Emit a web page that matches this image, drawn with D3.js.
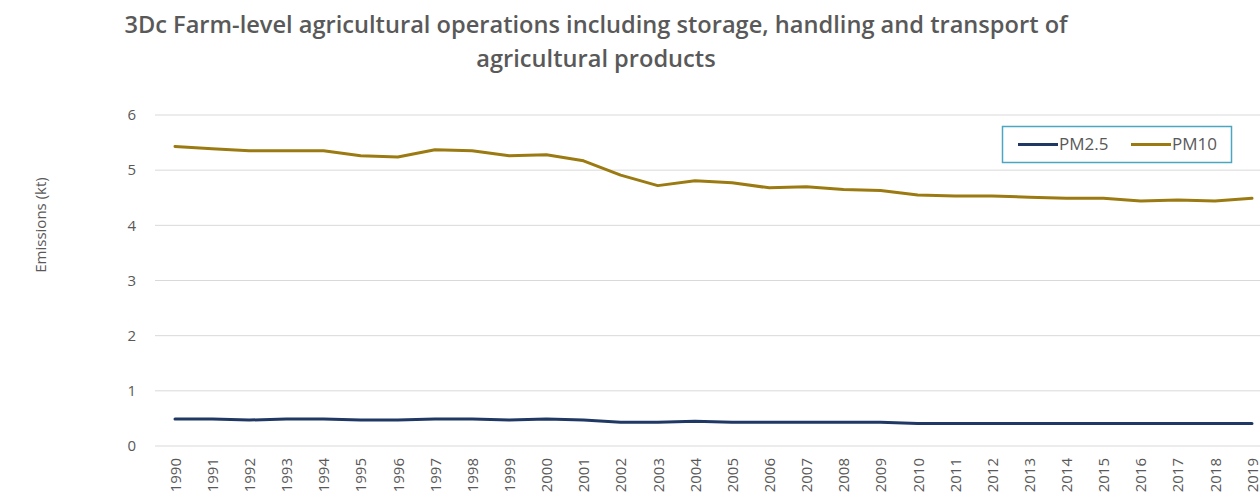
<!DOCTYPE html>
<html>
<head>
<meta charset="utf-8">
<script src="https://cdn.jsdelivr.net/npm/d3@7"></script>
<style>
  body { margin: 0; background: #fff; }
  svg { display: block; font-family: "Open Sans", "Noto Sans", sans-serif; }
</style>
</head>
<body>
<svg id="chart" width="1260" height="493"></svg>
<script>
const years = d3.range(1990, 2020).map(String);
const pm25 = [0.49, 0.49, 0.47, 0.49, 0.49, 0.47, 0.47, 0.49, 0.49, 0.47,
  0.49, 0.47, 0.43, 0.43, 0.45, 0.43, 0.43, 0.43, 0.43, 0.43,
  0.41, 0.41, 0.41, 0.41, 0.41, 0.41, 0.41, 0.41, 0.41, 0.41];
const pm10 = [5.43, 5.39, 5.35, 5.35, 5.35, 5.26, 5.24, 5.37, 5.35, 5.26,
  5.28, 5.17, 4.91, 4.72, 4.81, 4.77, 4.68, 4.70, 4.65, 4.63,
  4.55, 4.53, 4.53, 4.51, 4.49, 4.49, 4.44, 4.46, 4.44, 4.49];
const yTicks = [0, 1, 2, 3, 4, 5, 6];
const seriesNames = ['PM2.5', 'PM10'];
const colors = ['#203864', '#9c7a12'];

const svg = d3.select('#chart');
const textColor = '#595959';

// scales
const x = d3.scalePoint().domain(years).range([175, 1252]);
const y = d3.scaleLinear().domain([0, 6]).range([446, 115]);

// title, fitted to the reference width
const titleLines = [
  '3Dc Farm-level agricultural operations including storage, handling and transport of',
  'agricultural products',
];
const t1 = svg.append('text')
  .attr('x', 596).attr('y', 33)
  .attr('text-anchor', 'middle')
  .attr('font-weight', 600)
  .attr('fill', textColor)
  .attr('font-size', 20)
  .text(titleLines[0]);
const w = t1.node().getComputedTextLength();
const titleSize = 20 * 944 / w;
t1.attr('font-size', titleSize);
svg.append('text')
  .attr('x', 596).attr('y', 67)
  .attr('text-anchor', 'middle')
  .attr('font-weight', 600)
  .attr('fill', textColor)
  .attr('font-size', titleSize)
  .text(titleLines[1]);

// gridlines
svg.append('g')
  .selectAll('line')
  .data(yTicks)
  .join('line')
  .attr('x1', 155).attr('x2', 1260)
  .attr('y1', d => y(d)).attr('y2', d => y(d))
  .attr('stroke', '#d9d9d9')
  .attr('stroke-width', 1);

// y axis
const yAxis = svg.append('g')
  .attr('transform', 'translate(136,0)')
  .call(d3.axisLeft(y).tickValues(yTicks).tickFormat(d3.format('d')).tickSize(0).tickPadding(0));
yAxis.select('.domain').remove();
yAxis.selectAll('text')
  .attr('font-size', 15)
  .attr('font-family', '"Open Sans", sans-serif')
  .attr('fill', textColor);

svg.append('text')
  .attr('transform', 'translate(46,225) rotate(-90)')
  .attr('text-anchor', 'middle')
  .attr('font-size', 15)
  .attr('fill', textColor)
  .text('Emissions (kt)');

// x axis
const xAxis = svg.append('g')
  .attr('transform', `translate(0,${y(0)})`)
  .call(d3.axisBottom(x).tickSize(0).tickPadding(0));
xAxis.select('.domain').remove();
xAxis.selectAll('text')
  .attr('font-size', 15)
  .attr('font-family', '"Open Sans", sans-serif')
  .attr('fill', textColor)
  .attr('transform', 'translate(0,12) rotate(-90)')
  .attr('text-anchor', 'end')
  .attr('dy', '0.35em')
  .attr('y', 0);

// lines
const line = d3.line()
  .x((d, i) => x(years[i]))
  .y(d => y(d));

[pm25, pm10].forEach((s, i) => {
  svg.append('path')
    .datum(s)
    .attr('d', line)
    .attr('fill', 'none')
    .attr('stroke', colors[i])
    .attr('stroke-width', 3)
    .attr('stroke-linejoin', 'round')
    .attr('stroke-linecap', 'round');
});

// legend
const legend = svg.append('g');
legend.append('rect')
  .attr('x', 1002.5).attr('y', 126.5)
  .attr('width', 229).attr('height', 36)
  .attr('fill', '#fff')
  .attr('stroke', '#4da6c0')
  .attr('stroke-width', 1.5);
const legendX = [1018, 1131];
seriesNames.forEach((name, i) => {
  legend.append('line')
    .attr('x1', legendX[i]).attr('x2', legendX[i] + 40)
    .attr('y1', 144.5).attr('y2', 144.5)
    .attr('stroke', colors[i])
    .attr('stroke-width', 3);
  legend.append('text')
    .attr('x', legendX[i] + 41).attr('y', 144.5)
    .attr('dy', '0.35em')
    .attr('font-size', 17)
    .attr('fill', textColor)
    .text(name);
});
</script>
</body>
</html>
